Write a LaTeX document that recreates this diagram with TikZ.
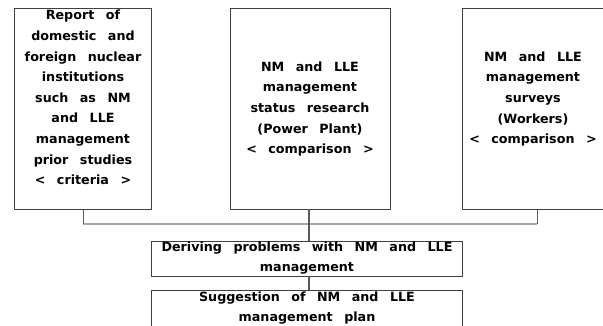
\documentclass[tikz,border=0pt]{standalone}
\usepackage{fontspec}
\setmainfont{DejaVu Sans}[WordSpace=2.6]
\tikzset{
  box/.style={draw=black!75, line width=0.9pt, rectangle, inner sep=0pt, anchor=north west},
  txt/.style={align=center, inner sep=0pt, font=\fontsize{12.7}{20.6}\selectfont\bfseries, text=black},
  conn/.style={draw=black!65, line width=1pt},
  bus/.style={draw=black!35, line width=1.8pt}
}
\begin{document}
\begin{tikzpicture}[x=1pt,y=-1pt]
\useasboundingbox (0,0) rectangle (603,326);
\fill[white] (0,0) rectangle (603,326);
\begin{scope}
\clip (0,0) rectangle (603,326);
\node[box, minimum width=137pt, minimum height=201pt] (b1) at (14,8) {};
\node[box, minimum width=160pt, minimum height=201pt] (b2) at (230,8) {};
\node[box, minimum width=143pt, minimum height=201pt] (b3) at (462,8) {};
\node[box, minimum width=311pt, minimum height=35pt] (b4) at (151,241) {};
\node[box, minimum width=311pt, minimum height=45pt] (b5) at (151,290) {};

\node[txt, anchor=north] (t1) at (83,10) {Report of\\domestic and\\foreign nuclear\\institutions\\such as NM\\and LLE\\management\\prior studies\\< criteria >};
\node[txt] (t2) at (310,109) {NM and LLE\\management\\status research\\(Power Plant)\\< comparison >};
\node[txt] (t3) at (533,99) {NM and LLE\\management\\surveys\\(Workers)\\< comparison >};
\node[txt] (t4) at (307,258) {Deriving problems with NM and LLE\\management};
\node[txt] (t5) at (307,308) {Suggestion of NM and LLE\\management plan};

\coordinate (j1) at (83,224);
\coordinate (j3) at (537,224);
\draw[bus] (j1) -- (j3);
\draw[conn] (b1.south -| j1) -- (j1);
\draw[conn] (b3.south -| j3) -- (j3);
\draw[conn, line width=1.3pt] (309,209) -- (309,241);
\draw[conn, line width=1.3pt] (309,276) -- (309,290);
\end{scope}
\end{tikzpicture}
\end{document}
